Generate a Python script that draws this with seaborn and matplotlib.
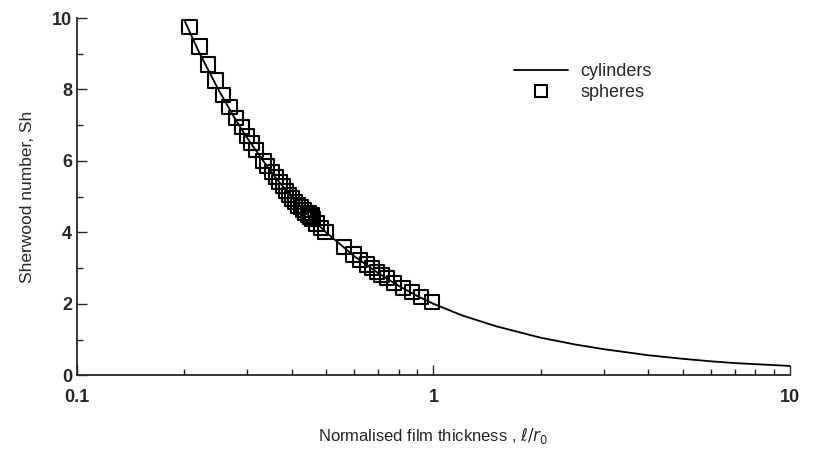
import numpy as np
import pandas as pd
import matplotlib
matplotlib.use("Agg")
import matplotlib.pyplot as plt
from matplotlib.ticker import FixedLocator, NullFormatter, MultipleLocator
from matplotlib.lines import Line2D
import seaborn as sns

# cylinders curve
cyl_x = [0.20, 0.22, 0.25, 0.28, 0.30, 0.35, 0.40, 0.45, 0.50, 0.60, 0.70, 0.80,
         0.90, 1.0, 1.2, 1.5, 2.0, 2.5, 3.0, 4.0, 5.0, 6.0, 7.0, 8.0, 10.0]
cyl_sh = [9.95, 9.05, 7.98, 7.12, 6.65, 5.70, 4.99, 4.44, 4.00, 3.33, 2.86, 2.50,
          2.22, 2.00, 1.68, 1.37, 1.05, 0.86, 0.73, 0.56, 0.46, 0.39, 0.34, 0.31, 0.26]

# spheres data points
sph_x = [0.207, 0.221, 0.233, 0.245, 0.257, 0.268, 0.279, 0.290, 0.300, 0.309,
         0.318, 0.334, 0.342, 0.352, 0.362, 0.370, 0.378, 0.386, 0.394, 0.402,
         0.410, 0.418, 0.425, 0.432, 0.438, 0.444, 0.448, 0.452, 0.455, 0.458,
         0.470, 0.485, 0.498, 0.560, 0.597, 0.624, 0.650, 0.672, 0.694, 0.715,
         0.740, 0.775, 0.820, 0.870, 0.925, 0.990]
sph_sh = [9.75, 9.20, 8.70, 8.25, 7.85, 7.50, 7.20, 6.95, 6.70, 6.50,
          6.30, 6.00, 5.85, 5.70, 5.55, 5.40, 5.30, 5.15, 5.05, 4.95,
          4.85, 4.75, 4.70, 4.62, 4.55, 4.50, 4.55, 4.42, 4.47, 4.38,
          4.25, 4.12, 4.02, 3.60, 3.38, 3.22, 3.10, 3.00, 2.90, 2.80,
          2.72, 2.58, 2.45, 2.32, 2.18, 2.05]

sns.set_style("ticks")
plt.rcParams['font.family'] = ['Liberation Sans', 'DejaVu Sans']
plt.rcParams['mathtext.fontset'] = 'dejavusans'

fig = plt.figure(figsize=(8.17, 4.51), dpi=100)
ax = fig.add_axes([0.094, 0.168, 0.873, 0.792])

cyl = pd.DataFrame({"x": cyl_x, "sh": cyl_sh})
sph = pd.DataFrame({"x": sph_x, "sh": sph_sh})

sns.lineplot(data=cyl, x="x", y="sh", ax=ax, color="black", lw=1.3,
             estimator=None, sort=True)
sns.scatterplot(data=sph, x="x", y="sh", ax=ax, marker="s", s=105,
                facecolor="none", edgecolor="black", linewidth=1.5, zorder=3)

ax.set_xscale("log")
ax.set_xlim(0.1, 10)
ax.set_ylim(0, 10)
ax.set_xticks([0.1, 1, 10])
ax.set_xticklabels(["0.1", "1", "10"])
ax.xaxis.set_minor_locator(FixedLocator([a * b for b in (0.1, 1) for a in range(2, 10)]))
ax.xaxis.set_minor_formatter(NullFormatter())
ax.yaxis.set_major_locator(MultipleLocator(2))
ax.yaxis.set_minor_locator(MultipleLocator(1))

ax.tick_params(which="both", direction="in", labelsize=13, width=1.0)
ax.tick_params(which="major", length=7)
ax.tick_params(which="minor", length=4)
ax.tick_params(axis="x", pad=10)
for lab in ax.get_xticklabels() + ax.get_yticklabels():
    lab.set_fontweight("bold")

sns.despine(ax=ax)
for sp in ("left", "bottom"):
    ax.spines[sp].set_linewidth(1.3)

ax.set_ylabel("Sherwood number, Sh", fontsize=12.5, labelpad=12)
ax.set_xlabel(r"Normalised film thickness , $\ell/r_0$", fontsize=12, labelpad=14)

handles = [Line2D([0], [0], color="black", lw=1.3),
           Line2D([0], [0], marker="s", ls="none", markersize=9,
                  markerfacecolor="none", markeredgecolor="black", markeredgewidth=1.5)]
ax.legend(handles, ["cylinders", "spheres"], loc="upper left",
          bbox_to_anchor=(0.59, 0.92), frameon=False, fontsize=13,
          handlelength=3.0, handletextpad=0.7, labelspacing=0.25)

fig.savefig("out.png", dpi=100)
